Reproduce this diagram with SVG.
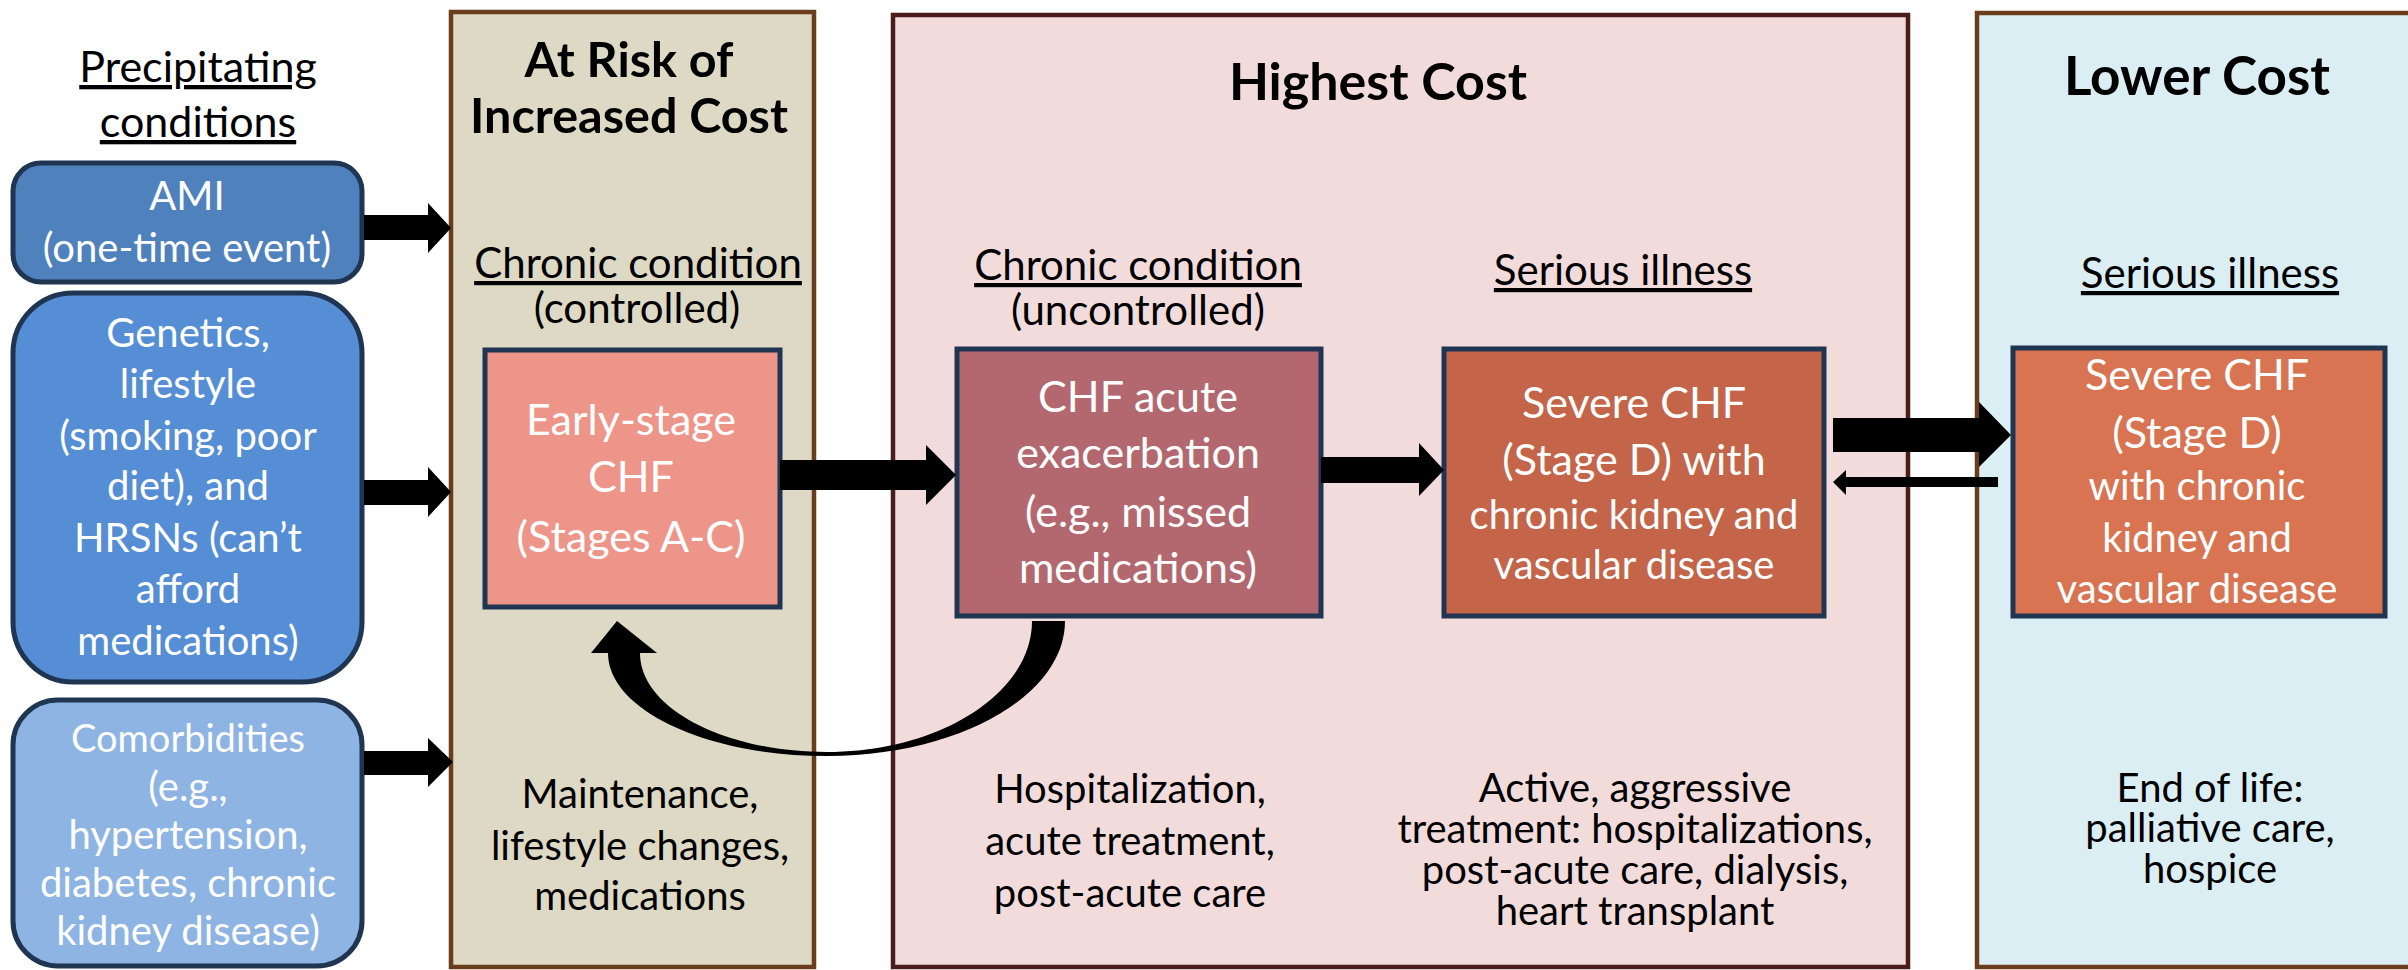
<svg xmlns="http://www.w3.org/2000/svg" width="2408" height="970" viewBox="0 0 2408 970">
<style>
text{font-family:Lato,"Liberation Sans",sans-serif;text-anchor:middle}
.w{fill:#fff}
.k{fill:#000}
.hd{font-weight:bold;font-size:52px}
.sub{font-size:42px}
.u{text-decoration:underline}
.bx{font-size:43px}
.sm{font-size:40px}
.inner{stroke:#1F3552;stroke-width:5}
.lb{stroke:#1F3552;stroke-width:5}
.arr{fill:#000}
</style>
<rect width="2408" height="970" fill="#fff"/>

<g id="panel-risk">
<rect x="451" y="12" width="363" height="955" fill="#DDD9C4" stroke="#6A3D1C" stroke-width="4.5"/>
<text class="hd k" x="629" y="77" style="font-size:48.5px">At Risk of</text>
<text class="hd k" x="629" y="133" style="font-size:48.5px">Increased Cost</text>
<text class="sub k u" x="638" y="278">Chronic condition</text>
<text class="sub k" x="637" y="323">(controlled)</text>
<text class="sm k" x="640" y="808">Maintenance,</text>
<text class="sm k" x="640" y="860">lifestyle changes,</text>
<text class="sm k" x="640" y="910">medications</text>
</g>

<g id="panel-highest">
<rect x="893" y="15" width="1015" height="952" fill="#F2DCDB" stroke="#4A1C1C" stroke-width="4.5"/>
<text class="hd k" x="1378" y="100">Highest Cost</text>
<text class="sub k u" x="1138" y="280">Chronic condition</text>
<text class="sub k" x="1138" y="325">(uncontrolled)</text>
<text class="sub k u" x="1623" y="285">Serious illness</text>
<text class="sm k" x="1130" y="803">Hospitalization,</text>
<text class="sm k" x="1130" y="855">acute treatment,</text>
<text class="sm k" x="1130" y="907">post-acute care</text>
<text class="sm k" x="1635" y="802">Active, aggressive</text>
<text class="sm k" x="1635" y="843">treatment: hospitalizations,</text>
<text class="sm k" x="1635" y="884">post-acute care, dialysis,</text>
<text class="sm k" x="1635" y="925">heart transplant</text>
</g>

<g id="panel-lower">
<rect x="1977" y="13" width="460" height="954" fill="#DBEEF3" stroke="#6A3D1C" stroke-width="4.5"/>
<text class="hd k" x="2197" y="95" style="font-size:53px">Lower Cost</text>
<text class="sub k u" x="2210" y="288">Serious illness</text>
<text class="sm k" x="2210" y="802">End of life:</text>
<text class="sm k" x="2210" y="842">palliative care,</text>
<text class="sm k" x="2210" y="883">hospice</text>
</g>

<g id="precipitating-title">
<text class="sub k u" x="198" y="82" style="font-size:43px">Precipitating</text>
<text class="sub k u" x="198" y="137" style="font-size:43px">conditions</text>
</g>

<g id="node-ami">
<rect class="lb" x="13" y="163" width="349" height="119" rx="28" fill="#4F81BD"/>
<text class="sm w" x="187" y="210">AMI</text>
<text class="sm w" x="187" y="262">(one-time event)</text>
</g>

<g id="node-genetics">
<rect class="lb" x="13" y="293" width="349" height="389" rx="60" fill="#558ED5"/>
<text class="sm w" x="188" y="347">Genetics,</text>
<text class="sm w" x="188" y="398">lifestyle</text>
<text class="sm w" x="188" y="450">(smoking, poor</text>
<text class="sm w" x="188" y="500">diet), and</text>
<text class="sm w" x="188" y="552">HRSNs (can’t</text>
<text class="sm w" x="188" y="603">afford</text>
<text class="sm w" x="188" y="655">medications)</text>
</g>

<g id="node-comorbidities">
<rect class="lb" x="13" y="700" width="349" height="266" rx="45" fill="#8EB4E3"/>
<text class="sm w" x="188" y="752" style="font-size:38px">Comorbidities</text>
<text class="sm w" x="188" y="801">(e.g.,</text>
<text class="sm w" x="188" y="849">hypertension,</text>
<text class="sm w" x="188" y="897">diabetes, chronic</text>
<text class="sm w" x="188" y="945">kidney disease)</text>
</g>

<g id="node-early">
<rect class="inner" x="485" y="350" width="295" height="257" fill="#EE958A"/>
<text class="bx w" x="631" y="435">Early-stage</text>
<text class="bx w" x="631" y="492">CHF</text>
<text class="bx w" x="631" y="552">(Stages A-C)</text>
</g>

<g id="node-acute">
<rect class="inner" x="957" y="349" width="364" height="267" fill="#B3686F"/>
<text class="bx w" x="1138" y="412">CHF acute</text>
<text class="bx w" x="1138" y="468">exacerbation</text>
<text class="bx w" x="1138" y="527">(e.g., missed</text>
<text class="bx w" x="1138" y="583">medications)</text>
</g>

<g id="node-severe">
<rect class="inner" x="1444" y="349" width="380" height="267" fill="#C4654A"/>
<text class="bx w" x="1634" y="418">Severe CHF</text>
<text class="bx w" x="1634" y="475">(Stage D) with</text>
<text class="sm w" x="1634" y="529">chronic kidney and</text>
<text class="sm w" x="1634" y="579">vascular disease</text>
</g>

<g id="node-severe-lower">
<rect class="inner" x="2013" y="348" width="372" height="268" fill="#D97453"/>
<text class="bx w" x="2197" y="390">Severe CHF</text>
<text class="bx w" x="2197" y="448">(Stage D)</text>
<text class="sm w" x="2197" y="500">with chronic</text>
<text class="sm w" x="2197" y="552">kidney and</text>
<text class="sm w" x="2197" y="603">vascular disease</text>
</g>

<g id="connectors">
<polygon class="arr" points="364,215 428,215 428,203 451,228 428,253 428,240 364,240"/>
<polygon class="arr" points="364,480 428,480 428,467 451,492 428,517 428,505 364,505"/>
<polygon class="arr" points="364,751 428,751 428,738 453,762 428,787 428,775 364,775"/>
<polygon class="arr" points="780,460 926,460 926,445 956,475 926,505 926,490 780,490"/>
<polygon class="arr" points="1321,457 1419,457 1419,443 1444,470 1419,496 1419,483 1321,483"/>
<polygon class="arr" points="1833,418 1979,418 1979,402 2011,435 1979,467 1979,452 1833,452"/>
<polygon class="arr" points="1998,477 1846,477 1846,470 1833,482 1846,495 1846,487 1998,487"/>
<path class="arr" d="M1065,621 C1065,695.6 958.4,756 827,756 C706,756 608,709.8 608,653 L591,653 L617,621 L657,653 L640,653 C640,708 724,752 827,752 C940,752 1032,693 1032,621 Z"/>
</g>
</svg>
